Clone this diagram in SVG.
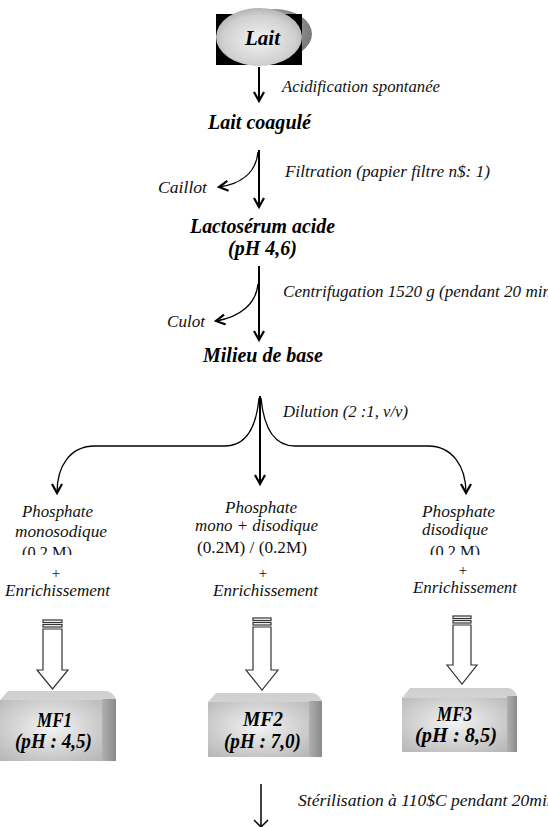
<svg xmlns="http://www.w3.org/2000/svg" width="548" height="827" viewBox="0 0 548 827">
<style>
.t{font-family:"Liberation Serif","DejaVu Serif","Times New Roman",serif;font-style:italic;font-size:16px;fill:#111}
.u{font-family:"Liberation Serif","DejaVu Serif","Times New Roman",serif;font-size:16px;fill:#111}
.p{font-family:"Liberation Serif","DejaVu Serif","Times New Roman",serif;font-size:15px;fill:#111}
.b{font-family:"Liberation Serif","DejaVu Serif","Times New Roman",serif;font-style:italic;font-weight:bold;font-size:20px;fill:#000}
.ln{fill:none;stroke:#000;stroke-width:2}
.cv{fill:none;stroke:#000;stroke-width:1.3}
.ha{fill:#fff;stroke:#333;stroke-width:1.2}
</style>
<defs>
<marker id="ah" markerWidth="14" markerHeight="12" refX="10" refY="6" orient="auto" markerUnits="userSpaceOnUse">
<polyline points="1,1 10,6 1,11" fill="none" stroke="#000" stroke-width="2.2"/>
</marker>
<radialGradient id="eg" cx="50%" cy="55%" r="60%">
<stop offset="0" stop-color="#f2f2f2"/><stop offset="0.7" stop-color="#d0d0d0"/><stop offset="1" stop-color="#a8a8a8"/>
</radialGradient>
<radialGradient id="sg" cx="40%" cy="40%" r="60%">
<stop offset="0" stop-color="#bdbdbd"/><stop offset="1" stop-color="#7a7a7a"/>
</radialGradient>
<radialGradient id="fg" cx="50%" cy="45%" r="70%">
<stop offset="0" stop-color="#f4f4f4"/><stop offset="1" stop-color="#b8b8b8"/>
</radialGradient>
<linearGradient id="rg" x1="0" y1="0" x2="1" y2="0">
<stop offset="0" stop-color="#b0b0b0"/><stop offset="1" stop-color="#8a8a8a"/>
</linearGradient>
<linearGradient id="tg" x1="0" y1="0" x2="0" y2="1">
<stop offset="0" stop-color="#cfcfcf"/><stop offset="1" stop-color="#e6e6e6"/>
</linearGradient>
<clipPath id="c1"><rect x="0" y="0" width="548" height="555"/></clipPath>
</defs>

<g id="connectors">
<line class="ln" x1="259" y1="67" x2="259" y2="101" marker-end="url(#ah)"/>
<line class="ln" x1="259" y1="150" x2="259" y2="207" marker-end="url(#ah)"/>
<path class="cv" d="M258,152 C256,172 242,184 219,187" marker-end="url(#ah)"/>
<line class="ln" x1="259" y1="266" x2="259" y2="340" marker-end="url(#ah)"/>
<path class="cv" d="M258,284 C256,304 240,317 216,321" marker-end="url(#ah)"/>
<line class="ln" x1="260" y1="396" x2="260" y2="484" marker-end="url(#ah)"/>
<path class="cv" d="M259,398 C256,430 245,446 225,446 L95,446 C70,446 57,466 57,493" marker-end="url(#ah)"/>
<path class="cv" d="M261,398 C264,430 275,446 295,446 L428,446 C452,446 466,466 466,493" marker-end="url(#ah)"/>
<line x1="261" y1="784" x2="261" y2="827" stroke="#000" stroke-width="1.5"/>
<polyline points="254,820 261,827 268,820" fill="none" stroke="#000" stroke-width="1.5"/>
</g>

<g id="lait">
<ellipse cx="275" cy="34" rx="37" ry="25" fill="url(#sg)"/>
<rect x="216" y="14" width="86" height="51" fill="#000"/>
<ellipse cx="259" cy="37" rx="43" ry="29" fill="url(#eg)"/>
<text class="b" x="245" y="45" textLength="35" lengthAdjust="spacingAndGlyphs">Lait</text>
</g>
<text class="t" x="282" y="92" textLength="158" lengthAdjust="spacingAndGlyphs">Acidification spontanée</text>

<g id="lait-coagule"><text class="b" x="208" y="129" textLength="103" lengthAdjust="spacingAndGlyphs">Lait coagulé</text></g>
<text class="t" x="285" y="177" textLength="205" lengthAdjust="spacingAndGlyphs">Filtration (papier filtre n$: 1)</text>
<g id="caillot"><text class="t" x="158" y="193" textLength="49" lengthAdjust="spacingAndGlyphs">Caillot</text></g>

<g id="lactoserum">
<text class="b" x="190" y="233" textLength="145" lengthAdjust="spacingAndGlyphs">Lactosérum acide</text>
<text class="b" x="228" y="255" textLength="69" lengthAdjust="spacingAndGlyphs">(pH 4,6)</text>
</g>
<text class="t" x="283" y="297" textLength="268" lengthAdjust="spacingAndGlyphs">Centrifugation 1520 g (pendant 20 min</text>
<g id="culot"><text class="t" x="167" y="327" textLength="38" lengthAdjust="spacingAndGlyphs">Culot</text></g>

<g id="milieu"><text class="b" x="203" y="362" textLength="120" lengthAdjust="spacingAndGlyphs">Milieu de base</text></g>
<text class="t" x="283" y="417" textLength="125" lengthAdjust="spacingAndGlyphs">Dilution (2 :1, v/v)</text>

<g id="phos1">
<text class="t" x="22" y="517" textLength="71" lengthAdjust="spacingAndGlyphs">Phosphate</text>
<text class="t" x="15" y="537" textLength="92" lengthAdjust="spacingAndGlyphs">monosodique</text>
<text class="u" x="22" y="558" textLength="50" lengthAdjust="spacingAndGlyphs" clip-path="url(#c1)">(0.2 M)</text>
<text class="p" x="56" y="578" text-anchor="middle">+</text>
<text class="t" x="5" y="596" textLength="105" lengthAdjust="spacingAndGlyphs">Enrichissement</text>
</g>
<g id="phos2">
<text class="t" x="225" y="513" textLength="72" lengthAdjust="spacingAndGlyphs">Phosphate</text>
<text class="t" x="195" y="531" textLength="123" lengthAdjust="spacingAndGlyphs">mono + disodique</text>
<text class="u" x="197" y="553" textLength="110" lengthAdjust="spacingAndGlyphs">(0.2M) / (0.2M)</text>
<text class="p" x="263" y="578" text-anchor="middle">+</text>
<text class="t" x="213" y="596" textLength="105" lengthAdjust="spacingAndGlyphs">Enrichissement</text>
</g>
<g id="phos3">
<text class="t" x="422" y="517" textLength="73" lengthAdjust="spacingAndGlyphs">Phosphate</text>
<text class="t" x="422" y="535" textLength="66" lengthAdjust="spacingAndGlyphs">disodique</text>
<text class="u" x="430" y="557" textLength="50" lengthAdjust="spacingAndGlyphs" clip-path="url(#c1)">(0.2 M)</text>
<text class="p" x="463" y="575" text-anchor="middle">+</text>
<text class="t" x="413" y="593" textLength="104" lengthAdjust="spacingAndGlyphs">Enrichissement</text>
</g>

<g id="hollow-arrows">
<rect class="ha" x="43" y="620" width="19" height="2.5"/>
<rect class="ha" x="43" y="624.5" width="19" height="2.5"/>
<polygon class="ha" points="43,629 62,629 62,670 68,670 52.5,689 37,670 43,670"/>
<rect class="ha" x="253" y="618" width="18" height="2.5"/>
<rect class="ha" x="253" y="622.5" width="18" height="2.5"/>
<polygon class="ha" points="253,627 271,627 271,670 278,670 262,690 246,670 253,670"/>
<rect class="ha" x="453" y="616" width="18" height="2.5"/>
<rect class="ha" x="453" y="620.5" width="18" height="2.5"/>
<polygon class="ha" points="453,625 471,625 471,665 477,665 462,684 447,665 453,665"/>
</g>

<g id="mf1">
<path d="M8,691 L106,691 Q112,691 116,699 L116,761 L0,761 L0,700 Z" fill="url(#tg)"/>
<path d="M102,699 L116,699 L116,761 L102,761 Z" fill="url(#rg)"/>
<rect x="0" y="700" width="102" height="61" fill="url(#fg)"/>
<text class="b" x="37" y="727" textLength="35" lengthAdjust="spacingAndGlyphs">MF1</text>
<text class="b" x="15" y="748" textLength="77" lengthAdjust="spacingAndGlyphs">(pH : 4,5)</text>
</g>
<g id="mf2">
<path d="M216,693 L312,693 Q318,693 322,701 L322,757 L208,757 L208,702 Z" fill="url(#tg)"/>
<path d="M309,701 L322,701 L322,757 L309,757 Z" fill="url(#rg)"/>
<rect x="208" y="702" width="101" height="55" fill="url(#fg)"/>
<text class="b" x="243" y="726" textLength="40" lengthAdjust="spacingAndGlyphs">MF2</text>
<text class="b" x="224" y="748" textLength="77" lengthAdjust="spacingAndGlyphs">(pH : 7,0)</text>
</g>
<g id="mf3">
<path d="M410,688 L508,688 Q514,688 517,696 L517,752 L402,752 L402,698 Z" fill="url(#tg)"/>
<path d="M507,696 L517,696 L517,752 L507,752 Z" fill="url(#rg)"/>
<rect x="402" y="698" width="105" height="54" fill="url(#fg)"/>
<text class="b" x="437" y="721" textLength="35" lengthAdjust="spacingAndGlyphs">MF3</text>
<text class="b" x="415" y="742" textLength="82" lengthAdjust="spacingAndGlyphs">(pH : 8,5)</text>
</g>

<text class="t" x="298" y="806" textLength="262" lengthAdjust="spacingAndGlyphs">Stérilisation à 110$C pendant 20min.</text>
</svg>
